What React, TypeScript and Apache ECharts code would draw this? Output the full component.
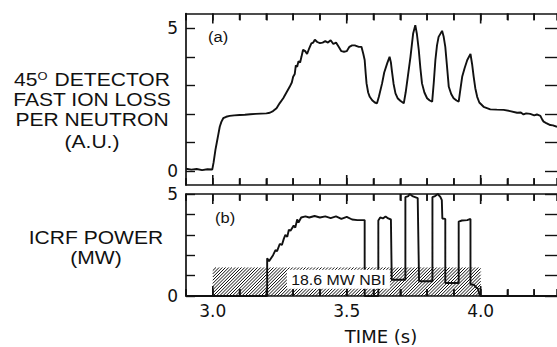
import { useEffect, useRef } from 'react';
import * as echarts from 'echarts';

// ---- data ----
const timeRange = [2.9, 4.285];
const xTickValues = [2.9, 3.0, 3.1, 3.2, 3.3, 3.4, 3.5, 3.6, 3.7, 3.8, 3.9, 4.0, 4.1, 4.2];
const xMajorTicks = [3.0, 3.5, 4.0];
const xTickLabels = ['3.0', '3.5', '4.0'];
const yTickLabels = ['0', '5'];

// (a) 45° detector fast ion loss per neutron (A.U.) vs time (s)
const detectorLoss: [number, number][] = [
  [2.9, 0.08], [2.92, 0.05], [2.94, 0.07], [2.96, 0.03], [2.98, 0.06], [2.998, 0.05],
  [3.003, 0.3], [3.01, 0.75], [3.015, 1.0], [3.02, 1.25], [3.026, 1.55], [3.032, 1.72],
  [3.039, 1.85], [3.05, 1.9], [3.063, 1.93], [3.08, 1.95], [3.1, 1.96], [3.12, 1.97],
  [3.14, 1.99], [3.16, 2.0], [3.18, 2.01], [3.2, 2.02], [3.213, 2.04], [3.225, 2.1],
  [3.238, 2.2], [3.25, 2.38], [3.263, 2.55], [3.275, 2.75], [3.287, 2.95], [3.295, 3.1],
  [3.3, 3.3], [3.306, 3.4], [3.31, 3.7], [3.315, 3.65], [3.32, 3.85], [3.326, 3.8],
  [3.331, 4.0], [3.337, 4.25], [3.345, 4.2], [3.352, 4.1], [3.36, 4.3], [3.368, 4.47],
  [3.375, 4.5], [3.381, 4.6], [3.39, 4.52], [3.4, 4.48], [3.41, 4.5], [3.42, 4.55],
  [3.43, 4.5], [3.44, 4.58], [3.45, 4.45], [3.46, 4.5], [3.47, 4.35], [3.48, 4.2],
  [3.49, 4.18], [3.5, 4.2], [3.51, 4.35], [3.52, 4.4], [3.53, 4.4], [3.545, 4.35],
  [3.555, 4.35], [3.562, 4.1], [3.567, 3.89], [3.571, 3.4], [3.574, 3.07], [3.58, 2.75],
  [3.586, 2.6], [3.595, 2.48], [3.605, 2.4], [3.613, 2.37], [3.62, 2.6], [3.632, 3.07],
  [3.64, 3.45], [3.651, 3.77], [3.66, 4.0], [3.665, 3.8], [3.669, 3.48], [3.675, 3.05],
  [3.682, 2.72], [3.69, 2.55], [3.7, 2.46], [3.713, 2.37], [3.72, 2.75], [3.728, 3.3],
  [3.738, 4.0], [3.748, 4.82], [3.756, 5.11], [3.762, 4.8], [3.769, 4.24], [3.775, 3.6],
  [3.781, 3.07], [3.79, 2.75], [3.8, 2.55], [3.81, 2.47], [3.819, 2.43], [3.825, 3.1],
  [3.831, 3.89], [3.837, 4.4], [3.843, 4.7], [3.856, 4.91], [3.862, 4.7], [3.868, 4.35],
  [3.875, 3.6], [3.881, 2.95], [3.89, 2.7], [3.899, 2.55], [3.91, 2.47], [3.918, 2.43],
  [3.925, 2.9], [3.931, 3.3], [3.94, 3.6], [3.95, 3.89], [3.962, 4.1], [3.968, 3.75],
  [3.974, 3.3], [3.98, 2.9], [3.987, 2.6], [3.995, 2.4], [4.011, 2.25], [4.036, 2.16],
  [4.06, 2.15], [4.086, 2.14], [4.11, 2.1], [4.136, 2.04], [4.15, 2.05], [4.16, 1.98],
  [4.17, 2.02], [4.185, 2.0], [4.2, 1.95], [4.21, 1.98], [4.223, 1.93], [4.23, 1.8],
  [4.235, 1.73], [4.245, 1.68], [4.26, 1.61], [4.27, 1.6], [4.285, 1.55],
];

// (b) ICRF power (MW) vs time (s)
const icrfPower: [number, number][] = [
  [2.9, 0], [3.203, 0], [3.203, 1.85], [3.21, 1.7], [3.215, 1.8], [3.225, 2.0],
  [3.234, 2.25], [3.24, 2.2], [3.25, 2.55], [3.258, 2.5], [3.265, 2.8], [3.271, 3.0],
  [3.278, 2.9], [3.284, 3.25], [3.29, 3.2], [3.302, 3.45], [3.308, 3.35], [3.315, 3.75],
  [3.32, 3.6], [3.33, 3.85], [3.346, 3.9], [3.36, 3.85], [3.38, 3.92], [3.4, 3.85],
  [3.42, 3.9], [3.44, 3.82], [3.46, 3.9], [3.48, 3.78], [3.5, 3.88], [3.52, 3.75],
  [3.54, 3.72], [3.567, 3.72], [3.567, 0], [3.618, 0], [3.618, 3.7], [3.625, 3.85],
  [3.635, 3.8], [3.645, 3.9], [3.655, 3.8], [3.665, 3.75], [3.668, 0.8], [3.719, 0.8],
  [3.719, 4.85], [3.73, 4.9], [3.735, 5.0], [3.745, 4.9], [3.755, 4.85], [3.765, 4.8],
  [3.77, 0.72], [3.82, 0.72], [3.82, 4.85], [3.83, 4.9], [3.84, 5.0], [3.85, 4.85],
  [3.855, 4.7], [3.857, 3.8], [3.868, 3.78], [3.868, 0.64], [3.918, 0.64], [3.918, 3.65],
  [3.93, 3.7], [3.95, 3.72], [3.962, 3.78], [3.962, 0.56], [3.975, 0.55], [3.985, 0.4],
  [3.99, 0.35], [3.995, 0.1], [4.0, 0], [4.285, 0],
];

// NBI block: [start time, end time, level in MW]
const nbiBlock = [3.0, 4.0, 1.4];
const nbiLabel = '18.6 MW NBI';
const nbiLabelAt = [3.469, 0.82];
// top panel frame item: [start, end, frame top value]
const topFrame = [3.0, 4.0, 1];

const leftTitleLines = ['45{sup|O} DETECTOR', 'FAST ION LOSS', 'PER NEUTRON', '(A.U.)'];
const lowerTitleLines = ['ICRF POWER', '(MW)'];
const panelTags = ['(a)', '(b)'];

// ---- styling ----
const ink = '#111';
const textFont = 'Liberation Sans, Arial, sans-serif';
const tickFont = 'DejaVu Sans, sans-serif';

function fmtX(v: number) {
  const s = (Math.round(v * 10) / 10).toFixed(1);
  return xTickLabels.includes(s) && Math.abs(v - Number(s)) < 1e-6 ? s : '';
}
function fmtY(v: number) {
  const s = String(Math.round(v));
  return yTickLabels.includes(s) && Math.abs(v - Number(s)) < 1e-6 ? s : '';
}

const frameLine = { show: true, onZero: false, lineStyle: { color: ink, width: 1.7 } };

function xAxisFrame(gridIndex: number, position: 'top' | 'bottom', labeled: boolean) {
  return {
    gridIndex,
    type: 'value',
    position,
    min: timeRange[0],
    max: timeRange[1],
    interval: 0.1,
    axisLine: frameLine,
    axisTick: { show: true, inside: true, length: 7, lineStyle: { color: ink, width: 1.5 } },
    axisLabel: labeled
      ? { show: true, formatter: fmtX, margin: 6, fontFamily: tickFont, fontSize: 17, color: ink }
      : { show: false },
    splitLine: { show: false },
  };
}

// inward time ticks on the bottom and top frame of a panel, as thin polygons
function panelTicks(api: any, yLow: number, yHigh: number) {
  const out: any[] = [];
  const w = 0.8;
  for (let i = 0; i < xTickValues.length; i++) {
    const t = xTickValues[i];
    const b = api.coord([t, yLow]);
    const u = api.coord([t, yHigh]);
    let major = false;
    for (let j = 0; j < xMajorTicks.length; j++) if (Math.abs(xMajorTicks[j] - t) < 1e-6) major = true;
    const len = major ? 10 : 6.5;
    out.push({
      type: 'polygon',
      shape: { points: [[b[0] - w, b[1]], [b[0] + w, b[1]], [b[0] + w, b[1] - len], [b[0] - w, b[1] - len]] },
      style: { fill: ink },
    });
    out.push({
      type: 'polygon',
      shape: { points: [[u[0] - w, u[1]], [u[0] + w, u[1]], [u[0] + w, u[1] + len], [u[0] - w, u[1] + len]] },
      style: { fill: ink },
    });
  }
  return out;
}

function topFrameRenderItem(params: any, api: any) {
  return { type: 'group', children: panelTicks(api, 0, api.value(2)) };
}

function hatchRenderItem(params: any, api: any) {
  const t0 = api.value(0);
  const t1 = api.value(1);
  const h = api.value(2);
  const bl = api.coord([t0, 0]);
  const tr = api.coord([t1, h]);
  const xL = bl[0], yB = bl[1], xR = tr[0], yT = tr[1];
  const step = 3.2;
  const children: any[] = [];
  for (let c = xL + yT; c <= xR + yB; c += step) {
    const xa = Math.max(xL, c - yB);
    const xb = Math.min(xR, c - yT);
    if (xb > xa) {
      children.push({
        type: 'line',
        shape: { x1: xa, y1: c - xa, x2: xb, y2: c - xb },
        style: { stroke: '#000', lineWidth: 0.95 },
      });
    }
  }
  const ticks = panelTicks(api, 0, 5);
  for (let k = 0; k < ticks.length; k++) children.push(ticks[k]);
  return { type: 'group', children };
}

function labelRenderItem(params: any, api: any) {
  const p = api.coord([api.value(0), api.value(1)]);
  return {
    type: 'text',
    x: p[0],
    y: p[1],
    scaleX: 1.06,
    style: {
      text: nbiLabel,
      fontSize: 15,
      fontFamily: textFont,
      fill: ink,
      align: 'center',
      verticalAlign: 'middle',
      textAlign: 'center',
      textVerticalAlign: 'middle',
      backgroundColor: '#fff',
      padding: [3, 4, 1, 4],
    },
  };
}

const option: any = {
  animation: false,
  backgroundColor: '#fff',
  grid: [
    { left: 186, top: 13.5, width: 371, height: 171.5, outerBoundsMode: 'none', containLabel: false },
    { left: 186, top: 28.3, width: 371, height: 142.7, outerBoundsMode: 'none', containLabel: false },
    { left: 186, top: 194, width: 371, height: 102, outerBoundsMode: 'none', containLabel: false },
  ],
  xAxis: [
    xAxisFrame(0, 'bottom', false),
    xAxisFrame(0, 'top', false),
    { gridIndex: 1, type: 'value', min: timeRange[0], max: timeRange[1], show: false },
    {
      ...xAxisFrame(2, 'bottom', true),
      name: 'TIME (s)',
      nameLocation: 'middle',
      nameGap: 31,
      nameTextStyle: { fontFamily: tickFont, fontSize: 18, color: ink, padding: [0, 0, 0, 19] },
    },
    xAxisFrame(2, 'top', false),
  ],
  yAxis: [
    {
      gridIndex: 0, type: 'value', min: 0, max: 1,
      axisLine: frameLine, axisTick: { show: false }, axisLabel: { show: false }, splitLine: { show: false },
    },
    {
      gridIndex: 1, type: 'value', min: 0, max: 5, interval: 1, position: 'left',
      axisLine: { show: false, onZero: false },
      axisTick: { show: true, inside: true, length: 9, lineStyle: { color: ink, width: 1.4 } },
      axisLabel: { show: true, formatter: fmtY, margin: 8, fontFamily: tickFont, fontSize: 17, color: ink },
      splitLine: { show: false },
    },
    {
      gridIndex: 1, type: 'value', min: 0, max: 5, interval: 1, position: 'right',
      axisLine: { show: false, onZero: false },
      axisTick: { show: true, inside: true, length: 12, lineStyle: { color: ink, width: 1.4 } },
      axisLabel: { show: false },
      splitLine: { show: false },
    },
    {
      gridIndex: 2, type: 'value', min: 0, max: 5, interval: 1, position: 'left',
      axisLine: frameLine,
      axisTick: { show: true, inside: true, length: 9, lineStyle: { color: ink, width: 1.4 } },
      axisLabel: { show: true, formatter: fmtY, margin: 8, fontFamily: tickFont, fontSize: 17, color: ink },
      splitLine: { show: false },
    },
    {
      gridIndex: 2, type: 'value', min: 0, max: 5, interval: 1, position: 'right',
      axisLine: { show: false, onZero: false },
      axisTick: { show: true, inside: true, length: 12, lineStyle: { color: ink, width: 1.4 } },
      axisLabel: { show: false },
      splitLine: { show: false },
    },
  ],
  series: [
    {
      type: 'custom',
      name: 'Top frame ticks',
      xAxisIndex: 0,
      yAxisIndex: 0,
      renderItem: topFrameRenderItem,
      data: [topFrame],
      encode: { x: [0, 1], y: 2 },
      silent: true,
      z: 1,
    },
    {
      type: 'custom',
      name: 'NBI',
      xAxisIndex: 3,
      yAxisIndex: 3,
      renderItem: hatchRenderItem,
      data: [nbiBlock],
      encode: { x: [0, 1], y: 2 },
      silent: true,
      z: 1,
    },
    {
      type: 'line',
      name: 'Fast ion loss',
      xAxisIndex: 2,
      yAxisIndex: 1,
      data: detectorLoss,
      symbol: 'none',
      showSymbol: false,
      clip: false,
      lineStyle: { color: ink, width: 1.9 },
      z: 2,
    },
    {
      type: 'line',
      name: 'ICRF power',
      xAxisIndex: 3,
      yAxisIndex: 3,
      data: icrfPower,
      symbol: 'none',
      showSymbol: false,
      clip: false,
      lineStyle: { color: ink, width: 1.9 },
      z: 2,
    },
    {
      type: 'custom',
      name: 'NBI label',
      xAxisIndex: 3,
      yAxisIndex: 3,
      renderItem: labelRenderItem,
      data: [nbiLabelAt],
      encode: { x: 0, y: 1 },
      silent: true,
      z: 3,
    },
  ],
  graphic: [
    ...leftTitleLines.map((t, i) => ({
      type: 'text',
      x: 92,
      y: [80, 100, 120, 142][i],
      scaleX: 1.17,
      style: {
        text: t,
        fontSize: 18,
        fontFamily: textFont,
        fill: ink,
        textAlign: 'center',
        textVerticalAlign: 'middle',
        rich: {
          sup: { fontSize: 11, fontFamily: textFont, fill: ink, verticalAlign: 'top', padding: [0, 1, 8, 0] },
        },
      },
    })),
    ...lowerTitleLines.map((t, i) => ({
      type: 'text',
      x: 96,
      y: [238, 257.5][i],
      scaleX: 1.17,
      style: {
        text: t,
        fontSize: 18,
        fontFamily: textFont,
        fill: ink,
        textAlign: 'center',
        textVerticalAlign: 'middle',
      },
    })),
    ...panelTags.map((t, i) => ({
      type: 'text',
      x: [208, 215][i],
      y: [37, 217.5][i],
      scaleX: 1.1,
      style: {
        text: t,
        fontSize: 15,
        fontFamily: textFont,
        fill: ink,
        textAlign: 'left',
        textVerticalAlign: 'middle',
      },
    })),
  ],
};

export default function App() {
  const ref = useRef<HTMLDivElement>(null);
  useEffect(() => {
    const chart = echarts.init(ref.current!, null, { renderer: 'svg' });
    chart.setOption(option);
    return () => chart.dispose();
  }, []);
  return <div ref={ref} style={{ position: 'fixed', left: 0, top: 0, width: 557, height: 347 }} />;
}
